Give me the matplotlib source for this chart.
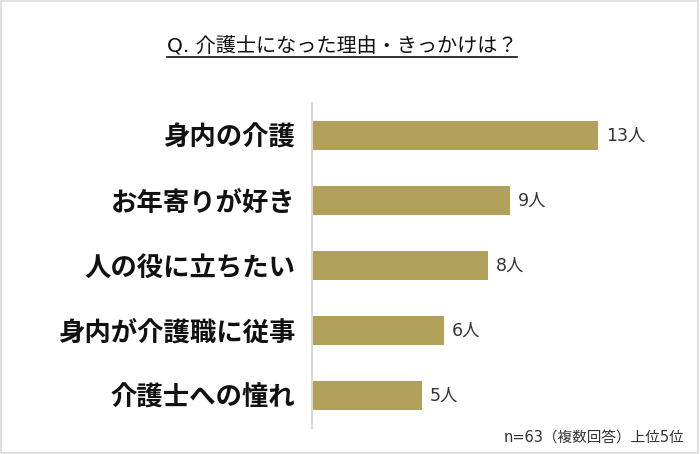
import matplotlib
matplotlib.use("Agg")
import matplotlib.pyplot as plt
from matplotlib.lines import Line2D
from matplotlib.patches import Rectangle

plt.rcParams['font.family'] = ['Noto Sans CJK JP', 'DejaVu Sans']
latin_first = ['DejaVu Sans', 'Noto Sans CJK JP']

# データ
reasons = ['身内の介護', 'お年寄りが好き', '人の役に立ちたい', '身内が介護職に従事', '介護士への憧れ']
counts = [13, 9, 8, 6, 5]
unit = '人'
title = 'Q. 介護士になった理由・きっかけは？'
note = 'n=63（複数回答）上位5位'

bar_color = '#B1A05A'

fig = plt.figure(figsize=(7, 4.54), dpi=100)
# 外枠
fig.add_artist(Rectangle((0.002, 0.003), 0.995, 0.994, transform=fig.transFigure,
                         fill=False, edgecolor='#d9d9d9', linewidth=1.2))

ax = fig.add_axes([312 / 700, 1 - 428 / 454, (680 - 312) / 700, 325 / 454])
y = list(range(len(reasons)))
ax.barh(y, counts, height=0.45, color=bar_color)
ax.set_ylim(len(reasons) - 0.5, -0.5)
ax.set_xlim(0, 368 / 22)

for i, v in enumerate(counts):
    ax.text(v + 0.35, i, f'{v}{unit}', va='center', ha='left',
            fontsize=12.5, color='#333333', family=latin_first)

ax.set_yticks(y)
ax.set_yticklabels(reasons, fontsize=19, fontweight='bold', color='#111111')
ax.tick_params(axis='y', length=0, pad=12)
ax.set_xticks([])
for s in ['top', 'right', 'bottom']:
    ax.spines[s].set_visible(False)
ax.spines['left'].set_color('#d9d9d9')
ax.spines['left'].set_linewidth(1.5)

t = fig.text(342 / 700, 1 - 47 / 454, title, ha='center', va='center',
             fontsize=14.5, color='#111111', family=latin_first)
note_t = fig.text(684 / 700, 1 - 437 / 454, note, ha='right', va='center',
                  fontsize=10.5, color='#333333', family=latin_first)

# タイトルの下線
fig.canvas.draw()
bb = t.get_window_extent().transformed(fig.transFigure.inverted())
fig.add_artist(Line2D([bb.x0, bb.x1], [1 - 57 / 454] * 2, transform=fig.transFigure,
                      color='#111111', linewidth=1.2))

fig.savefig('out.png', dpi=100)
